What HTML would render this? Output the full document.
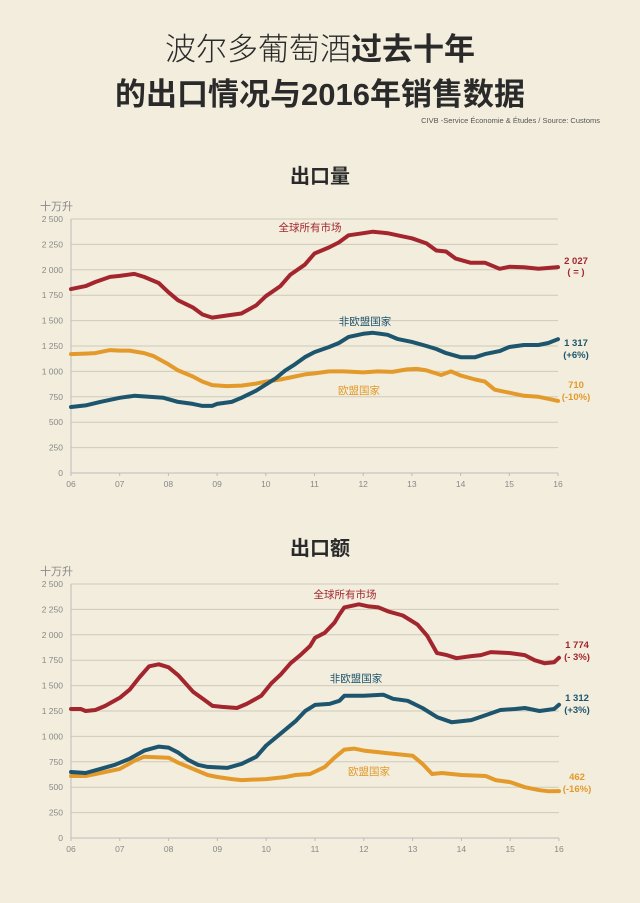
<!DOCTYPE html>
<html><head><meta charset="utf-8"><style>
body{margin:0;background:#f2eddc;}
svg{display:block}
</style></head><body>
<svg id="s" width="640" height="903" xmlns="http://www.w3.org/2000/svg" font-family="Liberation Sans, Noto Sans CJK SC, sans-serif">
<rect width="640" height="903" fill="#f2eddc"/>
<text x="320" y="60" text-anchor="middle" font-size="31" fill="#2a2a2a"><tspan font-weight="300">波尔多葡萄酒</tspan><tspan font-weight="bold">过去十年</tspan></text>
<text x="320" y="105" text-anchor="middle" font-size="31" font-weight="bold" fill="#2a2a2a">的出口情况与2016年销售数据</text>
<text x="600" y="123" text-anchor="end" font-size="7.5" fill="#555">CIVB -Service Économie &amp; Études / Source: Customs</text>
<text x="320" y="183" text-anchor="middle" font-size="20" font-weight="bold" fill="#2a2a2a">出口量</text>
<text x="320" y="555" text-anchor="middle" font-size="20" font-weight="bold" fill="#2a2a2a">出口额</text>
<g id="c1"></g><g id="c2"></g>
</svg>
<script>
var NS="http://www.w3.org/2000/svg";
function el(p,t,a,txt){var e=document.createElementNS(NS,t);for(var k in a)e.setAttribute(k,a[k]);if(txt!=null)e.textContent=txt;p.appendChild(e);return e;}
function chart(g,y0,x0,x1,series,labels){
 var s=0.1016;
 el(g,"text",{x:40,y:y0-263,"font-size":11,fill:"#888"},"十万升");
 var ticks=["0","250","500","750","1 000","1 250","1 500","1 750","2 000","2 250","2 500"];
 for(var i=0;i<=10;i++){var y=y0-i*250*s;
  if(i>0)el(g,"line",{x1:x0,x2:x1,y1:y,y2:y,stroke:"#cfcabb","stroke-width":1});
  el(g,"text",{x:x0-8,y:y+3,"text-anchor":"end","font-size":8.5,fill:"#888"},ticks[i]);}
 el(g,"line",{x1:x0,x2:x0,y1:y0-254,y2:y0,stroke:"#bbb"});
 el(g,"line",{x1:x0,x2:x1,y1:y0,y2:y0,stroke:"#bbb"});
 for(var i=0;i<=10;i++){var x=x0+i*(x1-x0)/10;
  el(g,"line",{x1:x,x2:x,y1:y0,y2:y0+3,stroke:"#bbb"});
  el(g,"text",{x:x,y:y0+14,"text-anchor":"middle","font-size":8.5,fill:"#888"},("0"+(6+i)).slice(-2));}
 series.forEach(function(sr){var pts=[];for(var i=0;i<sr.d.length;i+=2){pts.push((x0+(sr.d[i]-6)*(x1-x0)/10).toFixed(1)+","+(y0-sr.d[i+1]*s).toFixed(1));}
  el(g,"polyline",{points:pts.join(" "),fill:"none",stroke:sr.c,"stroke-width":4,"stroke-linejoin":"round","stroke-linecap":"round"});});
 labels.forEach(function(l){el(g,"text",{x:l[0],y:l[1],"text-anchor":"middle","font-size":l[4]||10.5,fill:l[3],"font-weight":l[5]||"normal"},l[2]);});
}
var R="#a3262f",B="#1d556e",O="#e39a2b";
chart(document.getElementById("c1"),473,71,558,[
{c:O,d:[6,1170,6.3,1175,6.5,1180,6.8,1210,7,1205,7.2,1205,7.5,1180,7.7,1150,8,1070,8.2,1010,8.5,950,8.7,900,8.9,865,9.2,855,9.5,860,9.8,880,10,900,10.3,920,10.6,950,10.8,970,11,980,11.3,1000,11.6,1000,12,990,12.3,1000,12.6,995,12.9,1020,13.1,1025,13.3,1010,13.6,965,13.8,1000,14,960,14.3,920,14.5,900,14.7,820,15,790,15.3,760,15.6,750,15.8,730,16,710]},
{c:B,d:[6,650,6.3,665,6.6,700,7,740,7.3,760,7.6,750,7.9,740,8.2,700,8.5,680,8.7,660,8.9,660,9,680,9.3,700,9.5,740,9.8,810,10,870,10.2,930,10.4,1010,10.6,1070,10.8,1140,11,1190,11.3,1240,11.5,1280,11.7,1340,12,1370,12.2,1380,12.5,1360,12.7,1320,13,1290,13.3,1250,13.5,1220,13.7,1180,14,1140,14.3,1140,14.5,1170,14.8,1200,15,1240,15.3,1260,15.6,1260,15.8,1280,16,1317]},
{c:R,d:[6,1810,6.3,1840,6.5,1880,6.8,1930,7,1940,7.3,1960,7.5,1930,7.8,1870,8,1780,8.2,1700,8.5,1630,8.7,1560,8.9,1530,9.2,1550,9.5,1570,9.8,1650,10,1740,10.3,1840,10.5,1950,10.8,2050,11,2160,11.3,2220,11.5,2270,11.7,2340,12,2360,12.2,2375,12.5,2360,12.8,2330,13,2310,13.3,2260,13.5,2190,13.7,2180,13.9,2110,14.2,2070,14.5,2070,14.8,2010,15,2030,15.3,2025,15.6,2010,16,2027]}
],[[310,231,"全球所有市场",R],[365,325,"非欧盟国家",B],[359,394,"欧盟国家",O],
[576,264,"2 027",R,9.5,"bold"],[576,275,"( = )",R,9.5,"bold"],[576,346,"1 317",B,9.5,"bold"],[576,358,"(+6%)",B,9.5,"bold"],[576,388,"710",O,9.5,"bold"],[576,400,"(-10%)",O,9.5,"bold"]]);
chart(document.getElementById("c2"),838,71,559,[
{c:O,d:[6,610,6.3,610,6.6,640,7,680,7.3,760,7.5,800,8,790,8.2,740,8.5,680,8.8,620,9,600,9.3,580,9.5,570,10,580,10.4,600,10.6,620,10.9,630,11.2,700,11.4,790,11.6,870,11.8,880,12,860,12.4,840,12.6,830,13,810,13.2,730,13.4,630,13.6,640,14,620,14.5,610,14.7,570,15,550,15.3,500,15.6,470,15.8,460,16,462]},
{c:B,d:[6,650,6.3,640,6.6,680,6.9,720,7.2,780,7.5,860,7.8,900,8,890,8.2,840,8.4,770,8.6,720,8.8,700,9.2,690,9.5,730,9.8,800,10,910,10.3,1030,10.6,1150,10.8,1250,11,1310,11.3,1320,11.5,1350,11.6,1400,12,1400,12.4,1410,12.6,1370,12.9,1350,13.2,1280,13.5,1190,13.8,1140,14.2,1160,14.5,1210,14.8,1260,15.1,1270,15.3,1280,15.6,1250,15.9,1270,16,1312]},
{c:R,d:[6,1270,6.2,1270,6.3,1250,6.5,1260,6.7,1300,7,1380,7.2,1460,7.4,1580,7.6,1690,7.8,1710,8,1680,8.2,1600,8.5,1440,8.7,1370,8.9,1300,9.1,1290,9.4,1280,9.6,1320,9.9,1400,10.1,1520,10.3,1610,10.5,1720,10.7,1800,10.9,1890,11,1970,11.2,2020,11.4,2120,11.5,2200,11.6,2270,11.9,2300,12.1,2280,12.3,2270,12.5,2230,12.8,2190,13.1,2100,13.3,1990,13.5,1820,13.7,1800,13.9,1770,14.2,1790,14.4,1800,14.6,1830,15,1820,15.3,1800,15.5,1750,15.7,1720,15.9,1730,16,1774]}
],[[345,598,"全球所有市场",R],[356,682,"非欧盟国家",B],[369,775,"欧盟国家",O],
[577,648,"1 774",R,9.5,"bold"],[577,660,"(- 3%)",R,9.5,"bold"],[577,701,"1 312",B,9.5,"bold"],[577,713,"(+3%)",B,9.5,"bold"],[577,780,"462",O,9.5,"bold"],[577,792,"(-16%)",O,9.5,"bold"]]);
</script>
</body></html>
